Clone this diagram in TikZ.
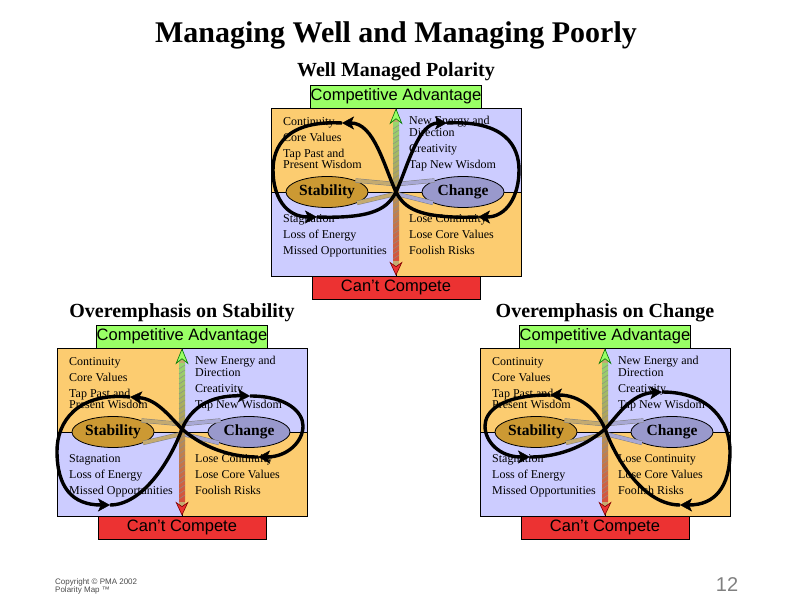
\documentclass[tikz,border=0pt]{standalone}
\usepackage{fontspec}
\setmainfont{Liberation Serif}
\setsansfont{Liberation Sans}
\usetikzlibrary{arrows.meta}
\usetikzlibrary{calc}
\usetikzlibrary{shapes.geometric}
\tikzset{>=latex}
\definecolor{quadorange}{RGB}{252,204,112}
\definecolor{quadlav}{RGB}{204,204,255}
\definecolor{advgreen}{RGB}{153,255,102}
\definecolor{losered}{RGB}{236,50,50}
\definecolor{stabgold}{RGB}{204,153,51}
\definecolor{chgblue}{RGB}{153,153,204}
\definecolor{ropetan}{RGB}{196,170,112}
\definecolor{ropelav}{RGB}{168,168,212}
\definecolor{ropegreen}{RGB}{150,215,110}
\definecolor{roperust}{RGB}{214,80,60}
\tikzstyle{titletext}=[font=\fontsize{30}{34}\selectfont\bfseries,anchor=base,inner sep=0]
\tikzstyle{subtitle}=[font=\fontsize{20}{24}\selectfont\bfseries,anchor=base,inner sep=0]
\tikzstyle{quadtext}=[font=\fontsize{12}{11.7}\selectfont,align=left,anchor=north west,inner sep=0]
\tikzstyle{ovalbox}=[ellipse,draw=black,line width=0.8pt,minimum width=82pt,minimum height=31pt,inner sep=0,font=\fontsize{15.5}{18}\selectfont\bfseries]
\tikzstyle{bandbox}=[draw=black,line width=0.6pt,minimum width=168pt,minimum height=23pt,inner sep=0,font=\sffamily\fontsize{16.5}{18}\selectfont]
\tikzstyle{ropeline}=[draw=ropetan,line width=6pt,{Stealth[length=16pt,width=13pt,line width=0.6pt,fill=advgreen,color=green!45!black]}-{Stealth[length=14pt,width=13pt,line width=0.6pt,fill=losered,color=red!50!black]}]
\tikzstyle{ropebraid}=[draw=black!45,line width=0.5pt]
\tikzstyle{strandtan}=[draw=black!50,line width=0.5pt,double=ropetan,double distance=3.4pt]
\tikzstyle{strandlav}=[draw=black!50,line width=0.5pt,double=ropelav,double distance=3.4pt]
\tikzstyle{loopline}=[draw=black,line width=3.4pt,-{Stealth[length=12pt,width=13pt,inset=3pt,line width=0.4pt]}]
\tikzstyle{copytext}=[font=\sffamily\fontsize{8}{8.5}\selectfont,text=black!70,align=left,anchor=north west,inner sep=0]
\tikzstyle{pagenum}=[font=\sffamily\fontsize{20}{22}\selectfont,text=black!50,inner sep=0]

\begin{document}
\begin{tikzpicture}[x=1pt,y=-1pt]
  \useasboundingbox (0,0) rectangle (792,612);
  \node[titletext] (title) at (396,43) {Managing Well and Managing Poorly};
  \node[subtitle] (well) at (396,77) {Well Managed Polarity};
  \node[subtitle] (overstab) at (182,317) {Overemphasis on Stability};
  \node[subtitle] (overchg) at (605,317) {Overemphasis on Change};

  % the three polarity maps
  \foreach \cx/\cy/\m in {396/192/a,182/432/b,605/432/c}{
    \begin{scope}[shift={(\cx,\cy)}]
      \fill[quadorange] (-125,-84) rectangle (0,0);
      \fill[quadlav] (0,-84) rectangle (125,0);
      \fill[quadlav] (-125,0) rectangle (0,84);
      \fill[quadorange] (0,0) rectangle (125,84);
      \draw[line width=0.6pt] (-125,-84) rectangle (125,84);
      \draw[line width=0.6pt] (-125,0) -- (125,0);
      \draw[line width=0.6pt] (0,-84) -- (0,84);

      \node[ovalbox,fill=stabgold] (stab\m) at (-69,0) {Stability};
      \node[ovalbox,fill=chgblue] (chg\m) at (67,0) {Change};
      \coordinate (mid\m) at (0,0);
      \draw[strandtan] (stab\m.22) -- ($(mid\m)+(-2,-8)$);
      \draw[strandtan] (stab\m.-20) -- ($(mid\m)+(-1,2)$);
      \draw[strandlav] (chg\m.158) -- ($(mid\m)+(2,-8)$);
      \draw[strandlav] (chg\m.200) -- ($(mid\m)+(1,2)$);

      \node[bandbox,fill=advgreen] (adv\m) at (0,-95.5) {Competitive Advantage};
      \node[bandbox,fill=losered] (lose\m) at (0,95.5) {Can’t Compete};
      \draw[ropeline] (adv\m) -- (lose\m);
      \shade[top color=ropegreen,middle color=ropetan,bottom color=roperust] (-3,-69) rectangle (3,69);
      \foreach \k in {-13,...,13}
        \draw[ropebraid] (-3,5*\k+2) -- (3,5*\k-2);

      \node[quadtext] (tl\m) at (-113,-75) {Continuity\\[4.3pt]Core Values\\[4.3pt]Tap Past and\\Present Wisdom};
      \node[quadtext] (tr\m) at (13,-76) {New Energy and\\Direction\\[4.8pt]Creativity\\[4pt]Tap New Wisdom};
      \node[quadtext] (bl\m) at (-113,22) {Stagnation\\[4.6pt]Loss of Energy\\[4.3pt]Missed Opportunities};
      \node[quadtext] (br\m) at (13,22) {Lose Continuity\\[4.6pt]Lose Core Values\\[4.3pt]Foolish Risks};
    \end{scope}
  }

  % well managed: both lobes the same
  \begin{scope}[shift={(396,192)}]
    \draw[loopline] (-54,-69) .. controls (-110,-72) and (-123,-45) .. (-123,-22)
      .. controls (-123,5) and (-110,25) .. (-79,25);
    \draw[loopline] (-79,25) .. controls (-20,27) and (-8,15) .. (0,0)
      .. controls (12,-26) and (22,-69) .. (51,-69);
    \draw[loopline] (51,-69) .. controls (110,-72) and (123,-45) .. (123,-22)
      .. controls (123,5) and (110,25) .. (82,25);
    \draw[loopline] (82,25) .. controls (20,27) and (8,15) .. (0,0)
      .. controls (-12,-26) and (-22,-69) .. (-54,-69);
  \end{scope}

  % stability side too big
  \begin{scope}[shift={(182,432)}]
    \draw[loopline] (-52,-35) .. controls (-105,-40) and (-125,-10) .. (-125,19)
      .. controls (-125,55) and (-110,73) .. (-72,73);
    \draw[loopline] (-72,73) .. controls (-40,73) and (-12,30) .. (0,-3)
      .. controls (8,-22) and (25,-37) .. (68,-36);
    \draw[loopline] (68,-36) .. controls (105,-36) and (121,-20) .. (121,-6)
      .. controls (121,10) and (105,25) .. (76,25);
    \draw[loopline] (76,25) .. controls (40,25) and (15,10) .. (0,-3)
      .. controls (-12,-15) and (-25,-33) .. (-52,-35);
  \end{scope}

  % change side too big
  \begin{scope}[shift={(605,432)}]
    \draw[loopline] (-75,25) .. controls (-40,25) and (-15,10) .. (0,-3)
      .. controls (12,-15) and (25,-38) .. (57,-40);
    \draw[loopline] (57,-40) .. controls (105,-40) and (125,-10) .. (125,19)
      .. controls (125,55) and (110,73) .. (75,73);
    \draw[loopline] (75,73) .. controls (40,73) and (12,30) .. (0,-3)
      .. controls (-8,-22) and (-25,-37) .. (-55,-37);
    \draw[loopline] (-55,-37) .. controls (-105,-37) and (-120,-20) .. (-120,-6)
      .. controls (-120,10) and (-105,25) .. (-75,25);
  \end{scope}

  \node[copytext] (copy) at (55,578) {Copyright © PMA 2002\\Polarity Map ™};
  \node[pagenum] (page) at (727,585) {12};
\end{tikzpicture}
\end{document}
